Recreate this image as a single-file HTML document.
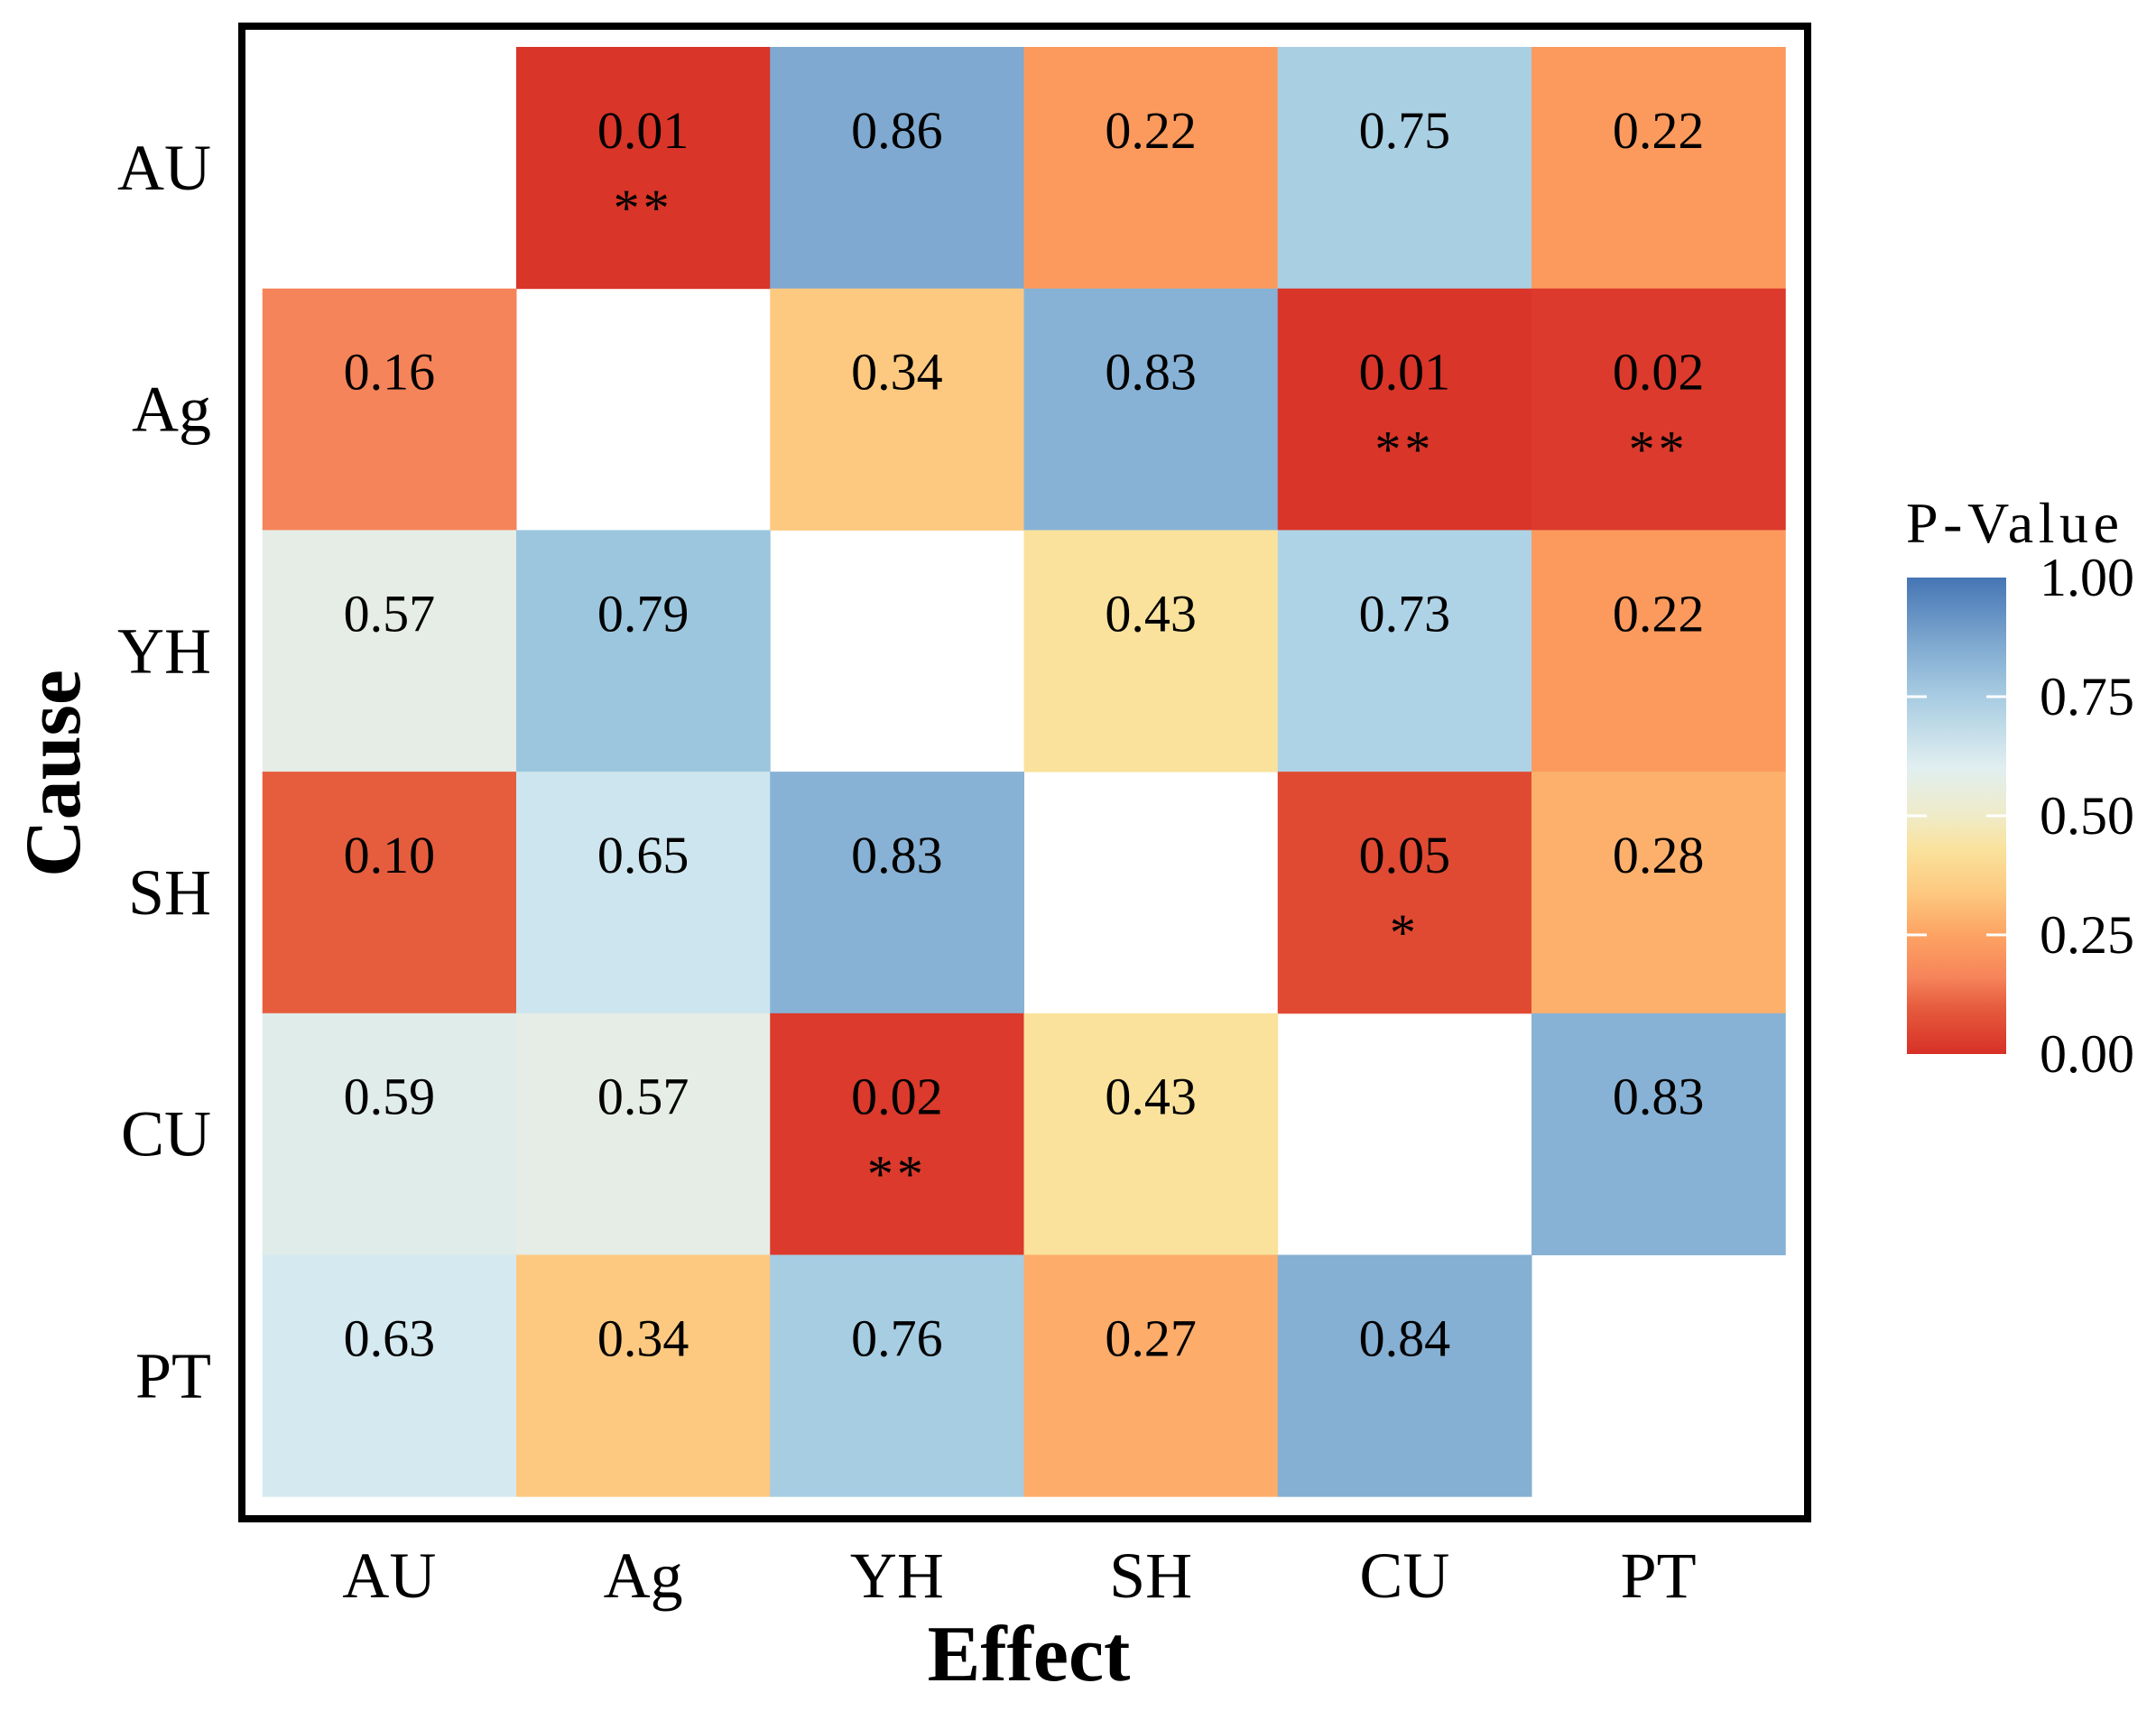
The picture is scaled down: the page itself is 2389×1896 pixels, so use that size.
<!DOCTYPE html>
<html><head><meta charset="utf-8"><style>
body{margin:0;background:#fff}
svg text{font-family:"Liberation Serif",serif;fill:#000}
</style></head><body>
<svg id="chart" width="2389" height="1891" viewBox="0 0 2389 1891" xmlns="http://www.w3.org/2000/svg">
<defs><linearGradient id="cbar" x1="0" y1="1" x2="0" y2="0">
<stop offset="0" stop-color="#d73027"/><stop offset="0.1" stop-color="#e65d3e"/><stop offset="0.16" stop-color="#f6845a"/><stop offset="0.25" stop-color="#fda363"/><stop offset="0.34" stop-color="#fdc980"/><stop offset="0.43" stop-color="#fae29c"/><stop offset="0.5" stop-color="#efebc8"/><stop offset="0.6" stop-color="#e1eff0"/><stop offset="0.75" stop-color="#a8cce2"/><stop offset="0.86" stop-color="#7fa9d0"/><stop offset="1" stop-color="#4575b4"/>
</linearGradient></defs>
<g id="cells"></g>
<rect x="268" y="29" width="1735" height="1654" fill="none" stroke="#000" stroke-width="8"/>
<g id="axes"></g>
<text x="1140" y="1862" font-size="88" font-weight="bold" text-anchor="middle">Effect</text>
<text transform="translate(88,857) rotate(-90)" font-size="88" font-weight="bold" text-anchor="middle">Cause</text>
<g>
<text x="2112" y="601" font-size="64" textLength="236">P-Value</text>
<rect x="2113" y="640" width="110" height="528" fill="url(#cbar)"/>
<g id="cbticks"></g>
</g>
</svg>
<script>
const causes = ["AU","Ag","YH","SH","CU","PT"];
const effects = ["AU","Ag","YH","SH","CU","PT"];
const pvals = [
 [null,0.01,0.86,0.22,0.75,0.22],
 [0.16,null,0.34,0.83,0.01,0.02],
 [0.57,0.79,null,0.43,0.73,0.22],
 [0.10,0.65,0.83,null,0.05,0.28],
 [0.59,0.57,0.02,0.43,null,0.83],
 [0.63,0.34,0.76,0.27,0.84,null]
];
const stars = [
 ["","**","","","",""],
 ["","","","","**","**"],
 ["","","","","",""],
 ["","","","","*",""],
 ["","","**","","",""],
 ["","","","","",""]
];
const legendTicks = [0,0.25,0.5,0.75,1];

const NS="http://www.w3.org/2000/svg";
const x0=290.75,cw=281.25,y0=52,ch=267.7;
const xPos=i=>x0+i*cw, yPos=j=>y0+j*ch;
const stops=[[0,"d73027"],[0.05,"e04a33"],[0.1,"e65d3e"],[0.16,"f6845a"],[0.22,"fc9a5e"],[0.28,"fdb06c"],[0.34,"fdc980"],[0.43,"fae29c"],[0.5,"efebc8"],[0.57,"e6ede6"],[0.63,"d4e9f0"],[0.73,"afd3e6"],[0.79,"9cc6de"],[0.83,"88b2d5"],[0.86,"7fa9d0"],[1,"4575b4"]]
  .map(s=>[s[0],[0,2,4].map(k=>parseInt(s[1].substr(k,2),16))]);
function color(v){
  for(let k=0;k<stops.length-1;k++){const a=stops[k],b=stops[k+1];
    if(v<=b[0]){const t=(v-a[0])/(b[0]-a[0]);const c=a[1].map((x,i)=>Math.round(x+(b[1][i]-x)*t));return `rgb(${c})`;}}
  return "rgb(69,117,180)";
}
function el(tag,attrs,parent,txt){const e=document.createElementNS(NS,tag);for(const k in attrs)e.setAttribute(k,attrs[k]);if(txt!==undefined)e.textContent=txt;parent.appendChild(e);return e;}
const cells=document.getElementById('cells');
pvals.forEach((row,j)=>row.forEach((v,i)=>{
  if(v===null)return;
  const r=el('rect',{x:xPos(i),y:yPos(j),width:cw+0.5,height:ch+0.5,fill:color(v)},cells);
  
  
  const cx=xPos(i)+cw/2, cy=yPos(j)+ch/2;
  const t=el('text',{x:cx,y:cy-22,'font-size':'58','text-anchor':'middle'},cells,v.toFixed(2));
  
  
  if(stars[j][i]){
    const s=el('text',{x:cx,y:cy+64,'font-size':'58','text-anchor':'middle','letter-spacing':'4'},cells,stars[j][i]);
    
    
  }
}));
const axes=document.getElementById('axes');
causes.forEach((c,j)=>{
  const t=el('text',{x:234,y:yPos(j)+ch/2+24,'font-size':'72','text-anchor':'end'},axes,c);
  
  
});
effects.forEach((c,i)=>{
  const t=el('text',{x:xPos(i)+cw/2,y:1770,'font-size':'72','text-anchor':'middle'},axes,c);
  
  
});
const cb=document.getElementById('cbticks');
const cbY=v=>1168-v*528;
legendTicks.forEach(v=>{
  const y=cbY(v);
  if(v>0&&v<1){
    el('line',{x1:2113,x2:2135,y1:y,y2:y,stroke:'#fff','stroke-width':3},cb);
    el('line',{x1:2201,x2:2223,y1:y,y2:y,stroke:'#fff','stroke-width':3},cb);
  }
  const t=el('text',{x:2260,y:y+20,'font-size':'60'},cb,v.toFixed(2));
  
  
});
</script>
</body></html>
